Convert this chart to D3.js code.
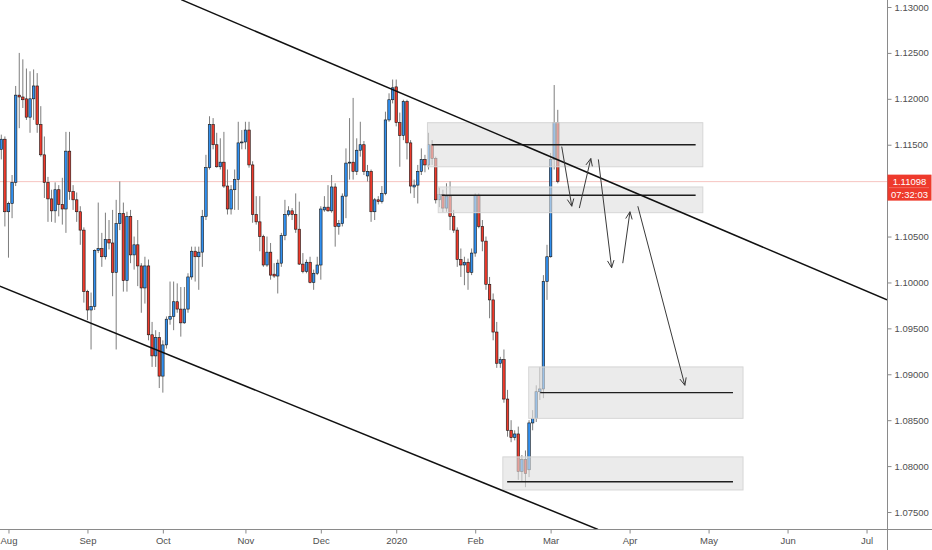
<!DOCTYPE html>
<html lang="en">
<head>
    <meta charset="UTF-8">
    <title>EURUSD daily - zones</title>
    <script src="https://d3js.org/d3.v7.min.js"></script>
    <style>
        body {
            margin: 0;
            background: #fff;
        }
        .axis text {
            font-family: "Liberation Sans", Arial, sans-serif;
            font-size: 9.5px;
            fill: #4f4f4f;
        }
        .axis line {
            stroke: #8a8a8a;
        }
    </style>
</head>
<body>
    <svg id="chart" width="932" height="550"></svg>

    <script>
        // daily candles, 30 Jul 2019 -> 4 Mar 2020
        const opens = [1.1145,1.1156,1.1077,1.1086,1.1109,1.1204,1.1202,1.1200,1.1180,1.1200,1.1214,1.1172,1.1139,1.1109,1.1091,1.1078,1.1101,1.1085,1.1080,1.1143,
            1.1099,1.1090,1.1077,1.1057,1.0990,1.0970,1.0974,1.1035,1.1037,1.1028,1.1047,1.1043,1.1011,1.1064,1.1075,1.1002,1.1072,1.1030,1.1041,1.1018,
            1.0994,1.1018,1.0943,1.0920,1.0940,1.0898,1.0932,1.0960,1.0963,1.0979,1.0971,1.0956,1.0971,1.1006,1.1034,1.1028,1.1033,1.1072,1.1125,1.1172,
            1.1150,1.1126,1.1131,1.1105,1.1080,1.1101,1.1112,1.1152,1.1153,1.1166,1.1128,1.1074,1.1066,1.1050,1.1019,1.1033,1.1009,1.1007,1.1021,1.1051,
            1.1074,1.1078,1.1074,1.1058,1.1020,1.1012,1.1022,1.1000,1.1010,1.1019,1.1079,1.1082,1.1078,1.1104,1.1061,1.1064,1.1094,1.1130,1.1131,1.1121,
            1.1144,1.1150,1.1116,1.1121,1.1077,1.1090,1.1088,1.1097,1.1177,1.1199,1.1213,1.1174,1.1160,1.1197,1.1152,1.1104,1.1106,1.1121,1.1134,1.1128,
            1.1150,1.1135,1.1090,1.1096,1.1081,1.1094,1.1072,1.1057,1.1025,1.1019,1.1022,1.1011,1.1032,1.1095,1.1061,1.1045,1.0998,1.0981,1.0946,1.0912,
            1.0916,1.0873,1.0839,1.0831,1.0835,1.0794,1.0807,1.0796,1.0847,1.0852,1.0881,1.0884,1.1001,1.1028,1.1134,1.1174];
        const highs = [1.1161,1.1159,1.1088,1.1117,1.1214,1.1250,1.1243,1.1233,1.1230,1.1232,1.1228,1.1192,1.1159,1.1115,1.1101,1.1109,1.1106,1.1114,1.1164,1.1164,
            1.1106,1.1098,1.1083,1.1060,1.0992,1.0989,1.1036,1.1087,1.1054,1.1076,1.1068,1.1079,1.1090,1.1110,1.1087,1.1077,1.1079,1.1050,1.1068,1.1021,
            1.1028,1.1025,1.0957,1.0948,1.0946,1.0937,1.0963,1.1001,1.1001,1.0999,1.0995,1.0995,1.1010,1.1039,1.1039,1.1039,1.1079,1.1139,1.1181,1.1179,
            1.1163,1.1157,1.1164,1.1123,1.1106,1.1123,1.1175,1.1166,1.1175,1.1175,1.1132,1.1094,1.1094,1.1052,1.1050,1.1043,1.1021,1.1025,1.1054,1.1090,
            1.1083,1.1081,1.1097,1.1088,1.1032,1.1025,1.1028,1.1014,1.1028,1.1083,1.1094,1.1106,1.1117,1.1108,1.1068,1.1097,1.1146,1.1179,1.1201,1.1157,
            1.1175,1.1154,1.1128,1.1123,1.1092,1.1094,1.1105,1.1186,1.1206,1.1221,1.1221,1.1185,1.1199,1.1199,1.1155,1.1112,1.1128,1.1146,1.1139,1.1163,
            1.1155,1.1137,1.1103,1.1101,1.1108,1.1110,1.1079,1.1060,1.1037,1.1028,1.1026,1.1037,1.1097,1.1097,1.1068,1.1050,1.1006,1.0988,1.0957,1.0919,
            1.0927,1.0883,1.0850,1.0839,1.0843,1.0812,1.0817,1.0850,1.0861,1.0888,1.0908,1.1008,1.1041,1.1141,1.1215,1.1188];
        const lows = [1.1134,1.1061,1.1027,1.1070,1.1105,1.1168,1.1190,1.1177,1.1163,1.1177,1.1163,1.1137,1.1092,1.1066,1.1066,1.1065,1.1072,1.1063,1.1054,1.1090,
            1.1079,1.1066,1.1041,1.0978,1.0959,1.0927,1.0970,1.1032,1.1017,1.1025,1.1036,1.0985,1.0927,1.1057,1.0990,1.0990,1.1021,1.1014,1.0996,1.0967,
            1.0977,1.0937,1.0908,1.0908,1.0885,1.0880,1.0928,1.0954,1.0948,1.0967,1.0941,1.0955,1.0967,1.1003,1.1001,1.0992,1.1017,1.1068,1.1123,1.1145,
            1.1125,1.1123,1.1103,1.1074,1.1074,1.1079,1.1079,1.1145,1.1145,1.1125,1.1065,1.1063,1.1034,1.1017,1.1017,1.1003,1.1005,1.0988,1.1017,1.1046,
            1.1072,1.1068,1.1054,1.1019,1.1010,1.1010,1.0999,1.0992,1.1008,1.1003,1.1077,1.1077,1.1076,1.1039,1.1052,1.1061,1.1070,1.1112,1.1112,1.1117,
            1.1137,1.1117,1.1110,1.1066,1.1068,1.1085,1.1086,1.1095,1.1175,1.1195,1.1170,1.1126,1.1155,1.1134,1.1097,1.1092,1.1086,1.1117,1.1120,1.1123,
            1.1128,1.1086,1.1082,1.1076,1.1077,1.1057,1.1054,1.1017,1.1006,1.0997,1.0992,1.1008,1.1028,1.1059,1.1034,1.0992,1.0961,1.0937,1.0907,1.0907,
            1.0869,1.0832,1.0826,1.0828,1.0785,1.0783,1.0777,1.0788,1.0839,1.0848,1.0872,1.0874,1.0981,1.1027,1.1123,1.1108];
        const closes = [1.1156,1.1077,1.1086,1.1109,1.1204,1.1202,1.1199,1.1180,1.1200,1.1214,1.1172,1.1139,1.1109,1.1091,1.1078,1.1101,1.1085,1.1080,1.1143,1.1099,
            1.1090,1.1077,1.1057,1.0990,1.0970,1.0974,1.1035,1.1037,1.1028,1.1047,1.1043,1.1011,1.1064,1.1075,1.1002,1.1072,1.1030,1.1041,1.1018,1.0994,
            1.1018,1.0943,1.0920,1.0940,1.0898,1.0932,1.0960,1.0963,1.0979,1.0971,1.0956,1.0971,1.1006,1.1034,1.1028,1.1033,1.1072,1.1125,1.1172,1.1150,
            1.1126,1.1131,1.1105,1.1080,1.1101,1.1112,1.1152,1.1153,1.1166,1.1128,1.1074,1.1066,1.1050,1.1019,1.1033,1.1008,1.1007,1.1021,1.1051,1.1074,
            1.1078,1.1074,1.1058,1.1020,1.1012,1.1022,1.1000,1.1010,1.1019,1.1080,1.1082,1.1078,1.1104,1.1061,1.1064,1.1094,1.1130,1.1131,1.1121,1.1144,
            1.1150,1.1121,1.1121,1.1077,1.1090,1.1088,1.1097,1.1177,1.1199,1.1212,1.1174,1.1160,1.1197,1.1152,1.1105,1.1106,1.1121,1.1134,1.1128,1.1150,
            1.1135,1.1090,1.1096,1.1081,1.1094,1.1072,1.1057,1.1025,1.1019,1.1022,1.1011,1.1032,1.1095,1.1061,1.1045,1.0998,1.0981,1.0946,1.0912,1.0916,
            1.0873,1.0839,1.0831,1.0835,1.0794,1.0807,1.0792,1.0847,1.0852,1.0881,1.0884,1.1001,1.1028,1.1134,1.1174,1.1110];

        // time axis: bar index of first trading day of each month
        const monthLabels = ["Aug", "Sep", "Oct", "Nov", "Dec", "2020", "Feb", "Mar", "Apr", "May", "Jun", "Jul"];
        const monthIdx = [2, 24, 45, 68, 89, 110, 132, 153, 175, 197, 219, 241];

        // 1.11000 sits under the last price tag, so it is not shown
        const priceTicks = [1.075, 1.08, 1.085, 1.09, 1.095, 1.10, 1.105, 1.115, 1.12, 1.125, 1.13];
        const lastPrice = 1.11098;
        const countdown = "07:32:03";

        // drawings: [barIdx, price]
        const trendLines = [
            [[50.1, 1.1308], [246.7, 1.0981]],
            [[-0.4, 1.0996], [166.2, 1.0731]]
        ];
        // zones: box from/to bar, top/bottom price, line from/to bar, line price
        const zones = [
            [118.7, 195.4, 1.1174, 1.1126, 119.9, 193.4, 1.1150],
            [121.7, 195.4, 1.1104, 1.1076, 122.7, 193.4, 1.1095],
            [146.9, 206.6, 1.0908, 1.0852, 150.1, 203.8, 1.0880],
            [139.7, 206.6, 1.0810, 1.0774, 140.9, 203.8, 1.0783]
        ];
        const arrows = [
            [[156.1, 1.1148], [158.9, 1.1083]],
            [[161.0, 1.1081], [164.2, 1.1135]],
            [[166.3, 1.1134], [170.0, 1.1016]],
            [[173.1, 1.1021], [175.1, 1.1077]],
            [[177.3, 1.1083], [190.4, 1.0888]]
        ];

        const upColor = "#3190f0";
        const downColor = "#ee3a2c";

        const svg = d3.select("#chart");
        const width = +svg.attr("width");
        const height = +svg.attr("height");
        const plotW = 887;
        const plotH = 529;

        const x = d3.scaleLinear().domain([-0.362, 246.7]).range([0, plotW]);
        const y = d3.scaleLinear().domain([1.075, 1.13]).range([512, 7]);

        svg.append("rect").attr("width", width).attr("height", height).attr("fill", "#fff");

        svg.append("clipPath").attr("id", "plotClip")
            .append("rect").attr("width", plotW).attr("height", plotH);

        const plot = svg.append("g").attr("clip-path", "url(#plotClip)");

        // last price line
        plot.append("line")
            .attr("x1", 0).attr("x2", plotW)
            .attr("y1", y(lastPrice)).attr("y2", y(lastPrice))
            .attr("stroke", "#f6c4c1").attr("stroke-width", 1);

        // candles
        const candles = closes.map((c, i) => ({ i: i, o: opens[i], h: highs[i], l: lows[i], c: c }));

        plot.selectAll("line.wick").data(candles)
            .join("line")
            .attr("class", "wick")
            .attr("x1", d => x(d.i)).attr("x2", d => x(d.i))
            .attr("y1", d => y(d.h)).attr("y2", d => y(d.l))
            .attr("stroke", "#7d7d7d").attr("stroke-width", 1);

        plot.selectAll("rect.body").data(candles)
            .join("rect")
            .attr("class", "body")
            .attr("x", d => x(d.i) - 1.25)
            .attr("width", 2.5)
            .attr("y", d => y(Math.max(d.o, d.c)))
            .attr("height", d => Math.max(0.8, Math.abs(y(d.o) - y(d.c))))
            .attr("fill", d => d.c >= d.o ? upColor : downColor)
            .attr("stroke", "#151515")
            .attr("stroke-width", 0.6);

        // zones
        plot.selectAll("rect.zone").data(zones)
            .join("rect")
            .attr("class", "zone")
            .attr("x", d => x(d[0]))
            .attr("width", d => x(d[1]) - x(d[0]))
            .attr("y", d => y(d[2]))
            .attr("height", d => y(d[3]) - y(d[2]))
            .attr("fill", "rgba(222,222,222,0.62)")
            .attr("stroke", "#d6d6d6")
            .attr("stroke-width", 1);

        plot.selectAll("line.level").data(zones)
            .join("line")
            .attr("class", "level")
            .attr("x1", d => x(d[4])).attr("x2", d => x(d[5]))
            .attr("y1", d => y(d[6])).attr("y2", d => y(d[6]))
            .attr("stroke", "#1e1e1e").attr("stroke-width", 1.4);

        // trend lines
        const line = d3.line().x(d => x(d[0])).y(d => y(d[1]));
        plot.selectAll("path.trend").data(trendLines)
            .join("path")
            .attr("class", "trend")
            .attr("d", line)
            .attr("fill", "none")
            .attr("stroke", "#111")
            .attr("stroke-width", 1.5);

        // arrows with open heads
        const headLen = 8;
        const headAngle = 0.42;
        arrows.forEach(a => {
            const x1 = x(a[0][0]), y1 = y(a[0][1]);
            const x2 = x(a[1][0]), y2 = y(a[1][1]);
            const ang = Math.atan2(y2 - y1, x2 - x1);
            const g = plot.append("g")
                .attr("stroke", "#3a3a3a").attr("stroke-width", 1).attr("fill", "none");
            g.append("line").attr("x1", x1).attr("y1", y1).attr("x2", x2).attr("y2", y2);
            [ang - headAngle, ang + headAngle].forEach(t => {
                g.append("line")
                    .attr("x1", x2).attr("y1", y2)
                    .attr("x2", x2 - headLen * Math.cos(t))
                    .attr("y2", y2 - headLen * Math.sin(t));
            });
        });

        // axes
        const yAxis = d3.axisRight(y)
            .tickValues(priceTicks)
            .tickFormat(d3.format(".5f"))
            .tickSize(4)
            .tickPadding(3);
        svg.append("g")
            .attr("class", "axis")
            .attr("transform", `translate(${plotW + 0.5},0)`)
            .call(yAxis)
            .call(g => g.select(".domain").remove());

        const xAxis = d3.axisBottom(x)
            .tickValues(monthIdx)
            .tickFormat((d, i) => monthLabels[i])
            .tickSize(4)
            .tickPadding(4);
        svg.append("g")
            .attr("class", "axis")
            .attr("transform", `translate(0,${plotH + 0.5})`)
            .call(xAxis)
            .call(g => g.select(".domain").remove());

        svg.append("line")
            .attr("x1", plotW + 0.5).attr("x2", plotW + 0.5)
            .attr("y1", 0).attr("y2", height)
            .attr("stroke", "#8a8a8a");
        svg.append("line")
            .attr("x1", 0).attr("x2", width)
            .attr("y1", plotH + 0.5).attr("y2", plotH + 0.5)
            .attr("stroke", "#8a8a8a");

        // last price tag
        const tagY = y(lastPrice);
        const tag = svg.append("g").attr("transform", `translate(${plotW + 0.5},${tagY - 7})`);
        tag.append("rect")
            .attr("width", 44).attr("height", 26)
            .attr("fill", downColor);
        tag.append("line")
            .attr("x1", 2).attr("x2", 42).attr("y1", 13).attr("y2", 13)
            .attr("stroke", "rgba(255,255,255,0.45)").attr("stroke-dasharray", "1,1");
        tag.append("text")
            .attr("x", 22).attr("y", 6.8)
            .attr("text-anchor", "middle").attr("dominant-baseline", "central")
            .attr("font-family", "Liberation Sans, Arial, sans-serif")
            .attr("font-size", "9.5px").attr("fill", "#fff")
            .text(d3.format(".5f")(lastPrice));
        tag.append("text")
            .attr("x", 22).attr("y", 19.6)
            .attr("text-anchor", "middle").attr("dominant-baseline", "central")
            .attr("font-family", "Liberation Sans, Arial, sans-serif")
            .attr("font-size", "9.5px").attr("fill", "#fff")
            .text(countdown);
    </script>
</body>
</html>
